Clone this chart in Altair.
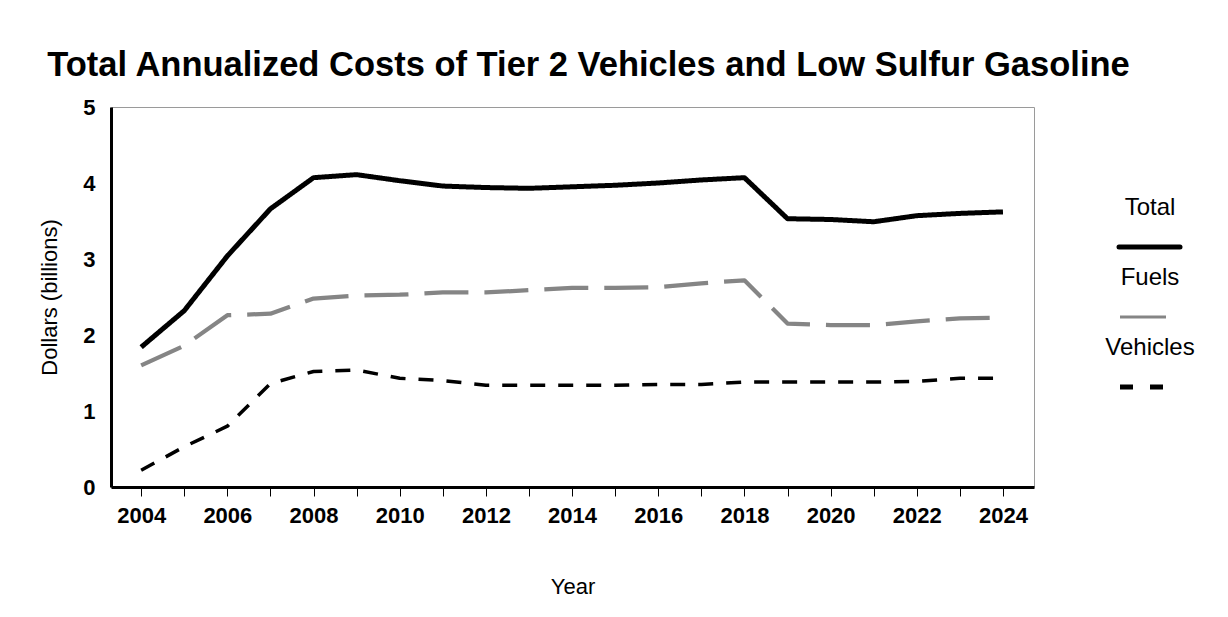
import altair as alt
import pandas as pd

years = list(range(2004, 2025))
total = [1.84, 2.32, 3.04, 3.66, 4.07, 4.11, 4.03, 3.96, 3.94, 3.93, 3.95,
         3.97, 4.00, 4.04, 4.07, 3.53, 3.52, 3.49, 3.57, 3.60, 3.62]
fuels = [1.60, 1.86, 2.26, 2.28, 2.48, 2.52, 2.53, 2.56, 2.56, 2.59, 2.62,
         2.62, 2.63, 2.68, 2.72, 2.15, 2.13, 2.13, 2.18, 2.22, 2.23]
vehicles = [0.22, 0.53, 0.80, 1.36, 1.52, 1.54, 1.43, 1.40, 1.34, 1.34, 1.34,
            1.34, 1.35, 1.35, 1.38, 1.38, 1.38, 1.38, 1.39, 1.43, 1.43]
series_names = ["Total", "Fuels", "Vehicles"]
y_ticks = [0, 1, 2, 3, 4, 5]

rows = []
for name, vals in zip(series_names, [total, fuels, vehicles]):
    for yr, v in zip(years, vals):
        rows.append({"Year": yr, "Cost": v, "Series": name})
df = pd.DataFrame(rows)

FONT = "Liberation Sans"

color_scale = alt.Scale(domain=series_names, range=["#000000", "#858585", "#000000"])
dash_scale = alt.Scale(domain=series_names, range=[[1, 0], [44, 16], [15, 13]])
width_scale = alt.Scale(domain=series_names, range=[5, 3.5, 5])

main = alt.Chart(df).mark_line(strokeCap="butt", strokeJoin="round").encode(
    x=alt.X("Year:Q",
            scale=alt.Scale(domain=[2003.3, 2024.72], nice=False, zero=False),
            axis=alt.Axis(values=years, format="d",
                          labelExpr="datum.value % 2 == 0 ? datum.label : ''",
                          title="Year", labelFont=FONT, labelFontSize=22,
                          labelFontWeight="bold", labelColor="black",
                          labelPadding=9, labelOverlap=False, labelFlush=False,
                          ticks=True, tickSize=9, tickColor="black", tickWidth=1,
                          domainColor="black", domainWidth=3, grid=False,
                          titleFont=FONT, titleFontSize=22, titleFontWeight="normal",
                          titleColor="black", titlePadding=50)),
    y=alt.Y("Cost:Q",
            scale=alt.Scale(domain=[0, 5], nice=False),
            axis=alt.Axis(values=y_ticks, title="Dollars (billions)", ticks=False,
                          grid=False, labelFont=FONT, labelFontSize=22,
                          labelFontWeight="bold", labelColor="black", labelPadding=16,
                          domainColor="black", domainWidth=3,
                          titleFont=FONT, titleFontSize=22, titleFontWeight="normal",
                          titleColor="black", titlePadding=21)),
    color=alt.Color("Series:N", scale=color_scale, legend=None),
    strokeDash=alt.StrokeDash("Series:N", scale=dash_scale, legend=None),
    strokeWidth=alt.StrokeWidth("Series:N", scale=width_scale, legend=None),
).properties(width=923, height=380, view=alt.ViewBackground(stroke="#9a9a9a", strokeWidth=1))

leg_df = pd.DataFrame({"Series": series_names})
base = alt.Chart(leg_df).encode(
    y=alt.Y("Series:N",
            scale=alt.Scale(type="point", domain=series_names, range=[140, 280], padding=0),
            axis=None)
)
leg_text = base.mark_text(font=FONT, fontSize=24, dy=-39, align="center",
                          baseline="middle", color="black").encode(
    text="Series:N", x=alt.value(47))
sym_total = base.transform_filter(alt.datum.Series == "Total").mark_rule(
    strokeWidth=5, color="black", strokeCap="round").encode(
    x=alt.value(16), x2=alt.value(77))
sym_fuels = base.transform_filter(alt.datum.Series == "Fuels").mark_rule(
    strokeWidth=3, color="#858585").encode(
    x=alt.value(17), x2=alt.value(63))
sym_veh = base.transform_filter(alt.datum.Series == "Vehicles").mark_rule(
    strokeWidth=5, color="black", strokeDash=[13, 17]).encode(
    x=alt.value(17), x2=alt.value(62))
legend = alt.layer(leg_text, sym_total, sym_fuels, sym_veh).properties(
    width=100, height=380, view=alt.ViewBackground(stroke=None))

chart = alt.hconcat(main, legend, spacing=68).properties(
    title=alt.Title("Total Annualized Costs of Tier 2 Vehicles and Low Sulfur Gasoline",
                    font=FONT, fontSize=34.5, fontWeight="bold",
                    color="black", anchor="start", offset=12, dx=9),
    padding={"left": 30, "top": 40, "right": 5, "bottom": 4},
).configure(background="white")

chart.save("out.html", embed_options={"renderer": "svg", "actions": False})
